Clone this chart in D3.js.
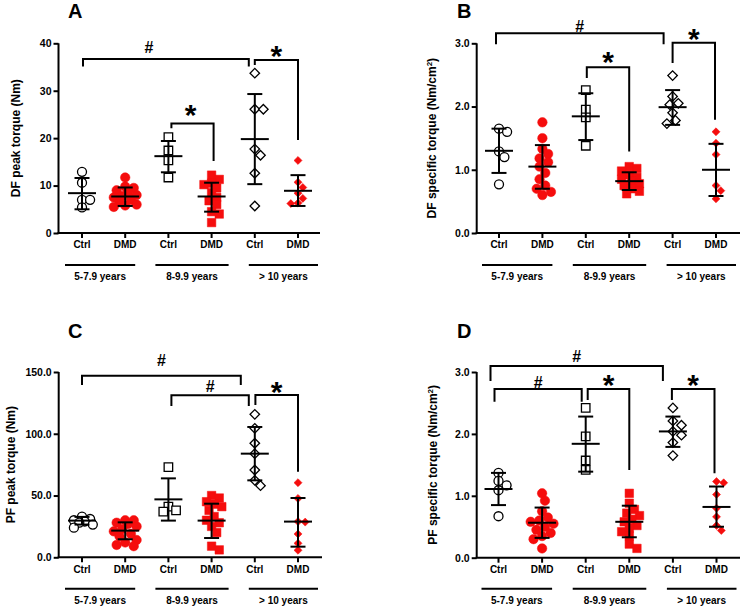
<!DOCTYPE html>
<html><head><meta charset="utf-8">
<script src="https://cdn.jsdelivr.net/npm/d3@7"></script>
<style>
body{margin:0;background:#fff}
svg{display:block}
text{font-family:"Liberation Sans",Arial,Helvetica,sans-serif;font-weight:bold;fill:#000}
</style>
</head><body>
<svg id="chart" width="741" height="608"></svg>
<script>
// ---------- shared categories ----------
const categories = ["Ctrl", "DMD", "Ctrl", "DMD", "Ctrl", "DMD"];
const ageGroups = ["5-7.9 years", "8-9.9 years", "> 10 years"];
const groupMembers = [[0, 1], [2, 3], [4, 5]];
const markerShape = ["circle", "circle", "square", "square", "diamond", "diamond"];
const markerFilled = [false, true, false, true, false, true];

// ---------- Panel A: DF peak torque (Nm) ----------
const dfPeakValues = [
  [12.9, 10.6, 7.0, 7.0, 5.4],
  [11.7, 9.8, 9.5, 9.0, 8.5, 8.0, 7.8, 7.5, 7.0, 6.5, 6.0, 5.8, 5.5],
  [20.2, 17.4, 15.3, 11.7],
  [12.2, 11.3, 10.5, 10.2, 9.5, 8.5, 7.5, 6.8, 6.0, 4.5, 4.0, 2.2],
  [33.7, 26.1, 26.1, 17.7, 16.4, 12.6, 5.7],
  [15.3, 10.7, 9.6, 8.4, 7.3, 6.3, 6.2]
];
const dfPeakMean = [8.4, 7.7, 16.2, 7.7, 19.8, 8.9];
const dfPeakSDLow = [5.0, 5.7, 12.8, 4.5, 10.3, 5.7];
const dfPeakSDHigh = [11.6, 9.6, 19.4, 10.6, 29.3, 12.2];
const dfPeakTicks = [0, 10, 20, 30, 40];
const dfPeakTickLabels = ["0", "10", "20", "30", "40"];
const dfPeakBrackets = [
  {from: 0, to: 4, top: 36.7, leftEnd: 35.1, rightEnd: 35.1, label: "#", labelAt: 39.3},
  {from: 4, to: 5, top: 36.5, leftEnd: 35.4, rightEnd: 19.6, label: "*", labelAt: 38.9},
  {from: 2, to: 3, top: 23.1, leftEnd: 22.1, rightEnd: 15.2, label: "*", labelAt: 26.4}
];

// ---------- Panel B: DF specific torque (Nm/cm2) ----------
const dfSpecValues = [
  [1.65, 1.60, 1.29, 1.20, 0.77],
  [1.75, 1.50, 1.33, 1.25, 1.18, 1.12, 1.05, 0.95, 0.85, 0.75, 0.70, 0.65, 0.60],
  [2.26, 1.95, 1.83, 1.38],
  [1.05, 1.02, 0.98, 0.92, 0.88, 0.85, 0.82, 0.78, 0.75, 0.70, 0.66, 0.62],
  [2.49, 2.16, 2.05, 2.03, 1.90, 1.78, 1.73],
  [1.60, 1.42, 1.24, 0.75, 0.67, 0.54]
];
const dfSpecMean = [1.30, 1.05, 1.845, 0.82, 1.99, 1.00];
const dfSpecSDLow = [0.95, 0.70, 1.47, 0.68, 1.71, 0.585];
const dfSpecSDHigh = [1.65, 1.39, 2.21, 0.96, 2.26, 1.41];
const dfSpecTicks = [0, 1, 2, 3];
const dfSpecTickLabels = ["0.0", "1.0", "2.0", "3.0"];
const dfSpecBrackets = [
  {from: 0, to: 4, top: 3.157, leftEnd: 2.984, rightEnd: 2.984, label: "#", labelAt: 3.27},
  {from: 4, to: 5, top: 3.01, leftEnd: 2.69, rightEnd: 1.79, label: "*", labelAt: 3.18},
  {from: 2, to: 3, top: 2.62, leftEnd: 2.45, rightEnd: 1.29, label: "*", labelAt: 2.81}
];

// ---------- Panel C: PF peak torque (Nm) ----------
const pfPeakValues = [
  [33.0, 31.0, 30.0, 29.0, 28.0, 26.5, 24.0],
  [30, 30, 28, 27, 25, 23, 21, 19, 17, 14, 12, 10, 9],
  [73, 41, 38, 37],
  [50, 48, 45, 43, 41, 38, 33, 30, 28, 25, 20, 9, 6],
  [115.7, 104.4, 92.3, 83.9, 70.7, 62.3, 58.0],
  [60.4, 47.7, 28.9, 28.5, 18.9, 11.3, 5.7]
];
const pfPeakMean = [29.7, 21.6, 46.9, 29.7, 83.9, 28.9];
const pfPeakSDLow = [26.5, 14.6, 29.7, 15.6, 62.3, 8.6];
const pfPeakSDHigh = [32.7, 28.3, 63.9, 43.4, 105.5, 48.0];
const pfPeakTicks = [0, 50, 100, 150];
const pfPeakTickLabels = ["0.0", "50.0", "100.0", "150.0"];
const pfPeakBrackets = [
  {from: 0, to: 4, top: 147.0, leftEnd: 139.5, rightEnd: 139.5, label: "#", labelAt: 159.7},
  {from: 2, to: 4, top: 131.1, leftEnd: 122.5, rightEnd: 122.5, label: "#", labelAt: 138.7},
  {from: 4, to: 5, top: 131.4, leftEnd: 123.3, rightEnd: 69.3, label: "*", labelAt: 139.5}
];

// ---------- Panel D: PF specific torque (Nm/cm2) ----------
const pfSpecValues = [
  [1.37, 1.24, 1.17, 1.09, 0.67],
  [1.04, 0.92, 0.75, 0.65, 0.60, 0.58, 0.55, 0.50, 0.45, 0.40, 0.35, 0.30, 0.15],
  [2.42, 1.96, 1.57, 1.42],
  [1.04, 0.88, 0.78, 0.72, 0.68, 0.62, 0.58, 0.52, 0.48, 0.42, 0.35, 0.22, 0.15],
  [2.42, 2.21, 2.14, 2.04, 1.98, 1.86, 1.65],
  [1.23, 1.21, 1.02, 0.80, 0.66, 0.52, 0.44]
];
const pfSpecMean = [1.11, 0.565, 1.84, 0.58, 2.04, 0.82];
const pfSpecSDLow = [0.85, 0.32, 1.39, 0.33, 1.79, 0.50];
const pfSpecSDHigh = [1.37, 0.81, 2.28, 0.84, 2.28, 1.15];
const pfSpecTicks = [0, 1, 2, 3];
const pfSpecTickLabels = ["0.0", "1.0", "2.0", "3.0"];
const pfSpecBrackets = [
  {from: 0, to: 4, top: 3.097, leftEnd: 2.855, rightEnd: 2.855, label: "#", labelAt: 3.26},
  {from: 0, to: 2, top: 2.725, leftEnd: 2.52, rightEnd: 2.52, label: "#", labelAt: 2.84},
  {from: 2, to: 3, top: 2.725, leftEnd: 2.548, rightEnd: 1.416, label: "*", labelAt: 2.91},
  {from: 4, to: 5, top: 2.725, leftEnd: 2.548, rightEnd: 1.363, label: "*", labelAt: 2.91}
];

// ---------- layout (pixels) ----------
const panels = [
  {title: "A", ylabel: ["DF peak torque (Nm)"], values: dfPeakValues, mean: dfPeakMean, lo: dfPeakSDLow, hi: dfPeakSDHigh,
   ticks: dfPeakTicks, tickLabels: dfPeakTickLabels, brackets: dfPeakBrackets,
   nudge: [[1, -6, -17], [0, 0, 0], [3, 2, -2]],
   axisX: 58.5, yTop: 43.3, yBottom: 233, xFirst: 82, xLast: 298, axisEnd: 320,
   titleX: 68, titleY: 18.3, ylabelX: 15.5, catY: 248, groupLineY: 265, groupLabelY: 279.5},
  {title: "B", ylabel: ["DF specific torque (Nm/cm", "2", ")"], values: dfSpecValues, mean: dfSpecMean, lo: dfSpecSDLow, hi: dfSpecSDHigh,
   ticks: dfSpecTicks, tickLabels: dfSpecTickLabels, brackets: dfSpecBrackets,
   nudge: [[-3, -9, 0], [0, -1, 0], [1, 0, 0]],
   axisX: 476.7, yTop: 43.3, yBottom: 233, xFirst: 499, xLast: 716, axisEnd: 740,
   titleX: 457, titleY: 18.3, ylabelX: 432, catY: 248, groupLineY: 265, groupLabelY: 279.5},
  {title: "C", ylabel: ["PF peak torque (Nm)"], values: pfPeakValues, mean: pfPeakMean, lo: pfPeakSDLow, hi: pfPeakSDHigh,
   ticks: pfPeakTicks, tickLabels: pfPeakTickLabels, brackets: pfPeakBrackets,
   nudge: [[0, -14, 0], [3, -6, 0], [0.6, 0, 0]],
   axisX: 58.7, yTop: 372, yBottom: 557.3, xFirst: 82, xLast: 298, axisEnd: 322,
   titleX: 68, titleY: 338.3, ylabelX: 11, catY: 572.5, groupLineY: 588.7, groupLabelY: 603.5},
  {title: "D", ylabel: ["PF specific torque (Nm/cm", "2", ")"], values: pfSpecValues, mean: pfSpecMean, lo: pfSpecSDLow, hi: pfSpecSDHigh,
   ticks: pfSpecTicks, tickLabels: pfSpecTickLabels, brackets: pfSpecBrackets,
   nudge: [[-8, -10, 0], [-4, -4, 0], [2, 0, 0], [-1, -2, 0]],
   axisX: 476.7, yTop: 372, yBottom: 557.7, xFirst: 498.5, xLast: 716.5, axisEnd: 740,
   titleX: 457, titleY: 338.3, ylabelX: 433, catY: 572.5, groupLineY: 588.7, groupLabelY: 603.5}
];
const groupLineOffsets = [[-17, 10], [-13, 17], [-6, 20]];
const RED = "#f50d0d";
// marker footprint widths (px)
const markerWidth = [9, 9.5, 8.5, 8.5, 9.5, 8];

const svg = d3.select("#chart");

function swarmX(vals, y, cx, d) {
  const order = vals.map((v, i) => i).sort((a, b) => vals[b] - vals[a]);
  const placed = [];
  const xs = new Array(vals.length);
  const maxOff = d * 1.25, step = d * 0.3;
  const cands = [0];
  for (let k = 1; k * step <= maxOff + 1e-6; k++) { cands.push(k * step, -k * step); }
  order.forEach(i => {
    const py = y(vals[i]);
    let best = null, bestDist = -1;
    for (const off of cands) {
      const px = cx + off;
      const md = placed.length ? d3.min(placed, p => Math.hypot(p[0] - px, p[1] - py)) : Infinity;
      if (md >= d * 0.8) { best = px; break; }
      if (md > bestDist) { bestDist = md; best = px; }
    }
    xs[i] = best; placed.push([best, py]);
  });
  return xs;
}

panels.forEach(P => {
  const g = svg.append("g");
  const maxTick = P.ticks[P.ticks.length - 1];
  const y = d3.scaleLinear().domain([0, maxTick]).range([P.yBottom, P.yTop]);
  const x = d3.scalePoint().domain(d3.range(categories.length)).range([P.xFirst, P.xLast]);

  // title
  g.append("text").attr("x", P.titleX).attr("y", P.titleY).attr("font-size", 20).text(P.title);

  // y axis
  const yAxis = d3.axisLeft(y).tickValues(P.ticks).tickFormat((d, i) => P.tickLabels[i]).tickSize(5).tickPadding(2);
  const ya = g.append("g").attr("transform", `translate(${P.axisX},0)`).call(yAxis);
  ya.select(".domain").attr("d", `M0,${P.yBottom}V${P.yTop}`).attr("stroke", "#000").attr("stroke-width", 2);
  ya.selectAll(".tick line").attr("stroke", "#000").attr("stroke-width", 2);
  ya.selectAll(".tick text").attr("font-size", 10.5).attr("font-family", null).style("font-weight", "bold");

  // x axis line + ticks
  g.append("line").attr("x1", P.axisX - 1).attr("x2", P.axisEnd).attr("y1", P.yBottom).attr("y2", P.yBottom)
    .attr("stroke", "#000").attr("stroke-width", 2);
  categories.forEach((c, i) => {
    g.append("line").attr("x1", x(i)).attr("x2", x(i)).attr("y1", P.yBottom).attr("y2", P.yBottom + 5)
      .attr("stroke", "#000").attr("stroke-width", 2);
    g.append("text").attr("x", x(i)).attr("y", P.catY).attr("text-anchor", "middle").attr("font-size", 10).text(c);
  });

  // age groups
  ageGroups.forEach((a, gi) => {
    const [c1, c2] = groupMembers[gi];
    const x1 = x(c1) + groupLineOffsets[gi][0], x2 = x(c2) + groupLineOffsets[gi][1];
    g.append("line").attr("x1", x1).attr("x2", x2).attr("y1", P.groupLineY).attr("y2", P.groupLineY)
      .attr("stroke", "#000").attr("stroke-width", 2);
    g.append("text").attr("x", (x1 + x2) / 2).attr("y", P.groupLabelY).attr("text-anchor", "middle")
      .attr("font-size", 10).text(a);
  });

  // y label
  const yl = g.append("text").attr("transform", `translate(${P.ylabelX},${(P.yTop + P.yBottom) / 2}) rotate(-90)`)
    .attr("text-anchor", "middle").attr("dy", "0.35em").attr("font-size", 12);
  yl.append("tspan").text(P.ylabel[0]);
  if (P.ylabel.length > 1) {
    yl.append("tspan").attr("font-size", 8).attr("dy", "-0.5em").text(P.ylabel[1]);
    yl.append("tspan").attr("dy", "0.35em").text(P.ylabel[2]);
  }

  // points
  categories.forEach((c, i) => {
    const shape = markerShape[i];
    const w = markerWidth[i];
    const vals = P.values[i];
    const xs = swarmX(vals, y, x(i), w);
    let gen, rot = 0;
    if (shape === "circle") gen = d3.symbol().type(d3.symbolCircle).size(Math.PI * w * w / 4);
    else if (shape === "square") gen = d3.symbol().type(d3.symbolSquare).size(w * w);
    else { const side = w / Math.SQRT2; gen = d3.symbol().type(d3.symbolSquare).size(side * side); rot = 45; }
    g.append("g").selectAll("path").data(vals).join("path")
      .attr("transform", (v, k) => `translate(${xs[k]},${y(v)}) rotate(${rot})`)
      .attr("d", gen)
      .attr("fill", markerFilled[i] ? RED : "#fff")
      .attr("stroke", markerFilled[i] ? RED : "#000")
      .attr("stroke-width", markerFilled[i] ? 0.5 : 1.3);
  });

  // mean and SD
  categories.forEach((c, i) => {
    const cx = x(i);
    const eg = g.append("g").attr("stroke", "#000").attr("stroke-width", 2);
    eg.append("line").attr("x1", cx - 14).attr("x2", cx + 14).attr("y1", y(P.mean[i])).attr("y2", y(P.mean[i]));
    eg.append("line").attr("x1", cx).attr("x2", cx).attr("y1", y(P.lo[i])).attr("y2", y(P.hi[i]));
    eg.append("line").attr("x1", cx - 7.5).attr("x2", cx + 7.5).attr("y1", y(P.lo[i])).attr("y2", y(P.lo[i]));
    eg.append("line").attr("x1", cx - 7.5).attr("x2", cx + 7.5).attr("y1", y(P.hi[i])).attr("y2", y(P.hi[i]));
  });

  // significance brackets
  P.brackets.forEach((b, bi) => {
    const n = P.nudge[bi];
    const x1 = x(b.from) + n[0], x2 = x(b.to) + n[1];
    g.append("path")
      .attr("d", `M${x1},${y(b.leftEnd)}V${y(b.top)}H${x2}V${y(b.rightEnd)}`)
      .attr("fill", "none").attr("stroke", "#000").attr("stroke-width", 2);
    const lx = (x1 + x2) / 2 + n[2];
    const ly = y(b.labelAt);
    if (b.label === "*") {
      g.append("text").attr("x", lx).attr("y", ly + 17).attr("text-anchor", "middle").attr("font-size", 30).text("*");
    } else {
      g.append("text").attr("x", lx).attr("y", ly + 6).attr("text-anchor", "middle").attr("font-size", 16).text("#");
    }
  });
});
</script>
</body></html>
